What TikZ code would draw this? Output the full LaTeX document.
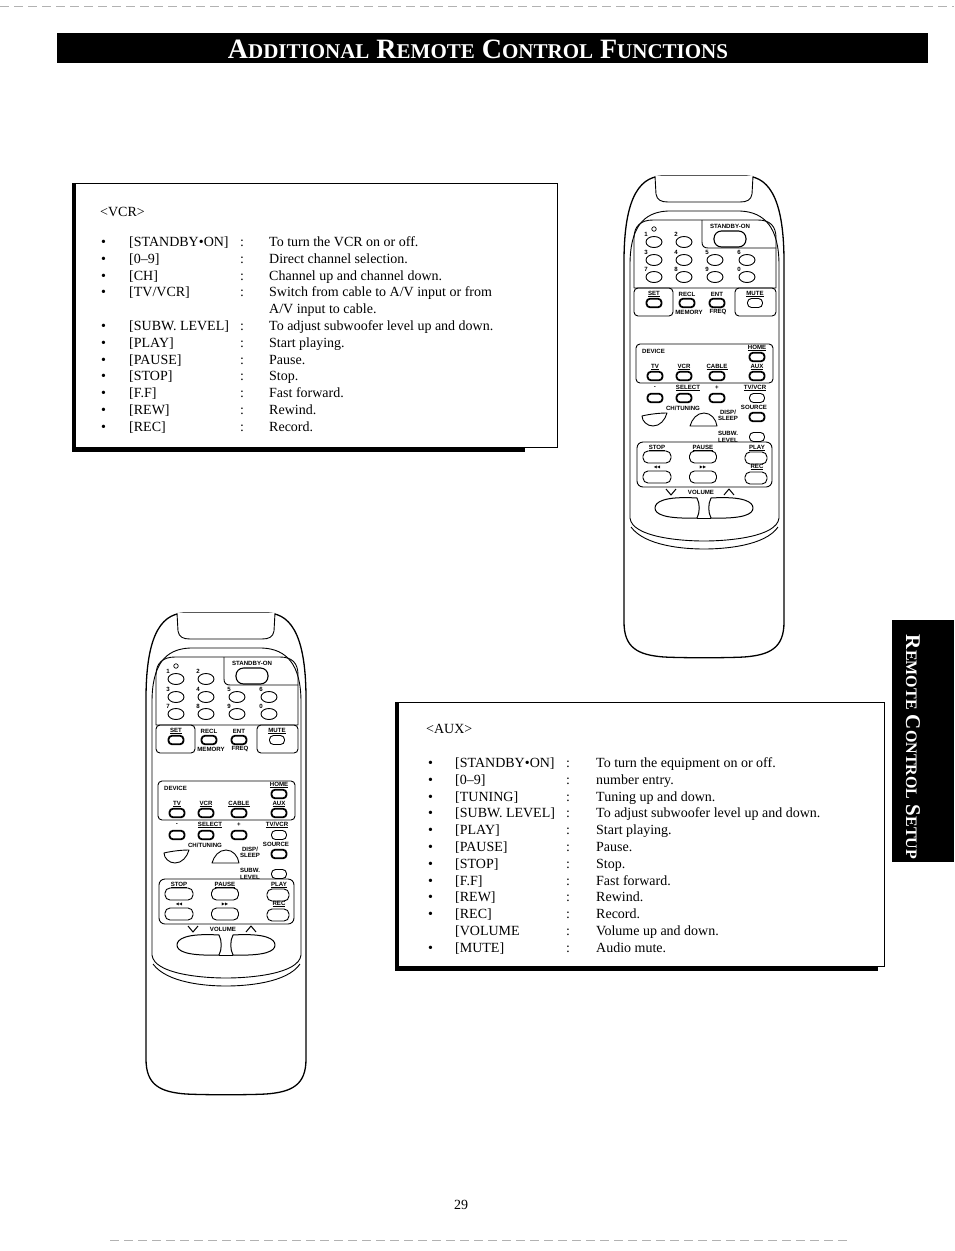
\documentclass[tikz,border=0pt]{standalone}
\usepackage{fontspec}
\setmainfont{Liberation Serif}
\setsansfont{Liberation Sans}
\newfontfamily\symbfont{DejaVu Sans}
\usetikzlibrary{shapes.geometric}

% fake small caps: big size, small size, first letter, rest
\newcommand{\fakesc}[4]{{\fontsize{#1}{#1}\selectfont #3}{\fontsize{#2}{#2}\selectfont #4}}

\tikzset{
  body/.style={line width=1.3pt, line join=round},
  plate/.style={line width=0.9pt, line join=round},
  panel/.style={line width=0.9pt, rounded corners=4pt},
  keylab/.style={font=\sffamily\bfseries\fontsize{6.1}{6.3}\selectfont, inner sep=0pt, align=center},
  digitkey/.style={ellipse, draw, line width=0.9pt, minimum width=16pt, minimum height=11pt, inner sep=0pt},
  boldkey/.style={rectangle, draw, line width=1.8pt, rounded corners=3.5pt, minimum width=15pt, minimum height=8.5pt, inner sep=0pt},
  thinkey/.style={rectangle, draw, line width=0.9pt, rounded corners=4pt, minimum width=15pt, minimum height=9pt, inner sep=0pt},
  playkey/.style={thinkey, minimum height=12pt, rounded corners=5pt},
  txt/.style={font=\fontsize{14}{17}\selectfont, anchor=base west, inner sep=0pt},
  colon/.style={font=\fontsize{14}{17}\selectfont, anchor=base, inner sep=0pt},
  scan/.style={gray!60, line width=0.6pt, dash pattern=on 9pt off 5pt},
}

% one remote, drawn at the place of the right one
\newcommand{\drawremote}[1]{%
  % body, face plate and lid
  \draw[body] (624,262) .. controls (624,205) and (636,177) .. (662,176) -- (746,176)
    .. controls (772,177) and (784,205) .. (784,262) -- (784,622)
    .. controls (784,648) and (770,655) .. (744,657) .. controls (724,658) and (684,658) .. (664,657)
    .. controls (638,655) and (624,648) .. (624,622) -- cycle;
  \draw[plate] (630,518) -- (630,265) .. controls (630,228) and (643,212) .. (668,211) -- (740,211)
    .. controls (765,212) and (779,228) .. (779,265) -- (779,518)
    .. controls (777,537) and (728,541) .. (704,541) .. controls (680,541) and (632,537) .. (630,518);
  \draw[plate] (631,527) .. controls (645,546) and (684,549) .. (704,549) .. controls (724,549) and (765,546) .. (778,527);
  \draw[plate, fill=white] (655,176) -- (656,194) .. controls (657,200) and (661,202) .. (668,202) -- (740,202)
    .. controls (747,202) and (751,200) .. (752,194) -- (753,176);
  % keypad
  \draw[plate] (634,288) -- (634,238) .. controls (634,226) and (641,220) .. (653,220) -- (758,220)
    .. controls (770,220) and (776,226) .. (776,238) -- (776,288) -- cycle;
  \draw[plate] (702,220) -- (702,242) .. controls (702,246) and (704,248) .. (708,248) -- (776,248);
  \draw[panel] (634,288) rectangle (673,316);
  \draw[panel] (735,288) rectangle (776,316);
  \node[circle, draw, line width=0.7pt, minimum size=4.5pt, inner sep=0pt] (#1led) at (654,229) {};
  \foreach \lab/\px/\py in {1/654/242, 2/684/242, 3/654/260, 4/684/260, 5/715/260, 6/747/260,
                            7/654/277, 8/684/277, 9/715/277, 0/747/277} {
    \node[digitkey] (#1k\lab) at (\px,\py) {};
    \node[keylab] (#1l\lab) at (\px-8,\py-8) {\lab};
  }
  \node[keylab] (#1lsb) at (730,226) {STANDBY-ON};
  \node[thinkey, minimum width=32pt, minimum height=16pt, rounded corners=7.5pt, line width=1.1pt] (#1sb) at (730,239) {};
  \node[keylab] (#1lset) at (654,294) {\underline{SET}};
  \node[boldkey] (#1set) at (654,303) {};
  \node[keylab] (#1lrecl) at (687,294) {RECL};
  \node[boldkey] (#1recl) at (687,303) {};
  \node[keylab] (#1lent) at (717,294) {ENT};
  \node[boldkey] (#1ent) at (717,303) {};
  \node[keylab] (#1lmute) at (755,294) {\underline{MUTE}};
  \node[thinkey] (#1mute) at (755,303) {};
  \node[keylab] (#1lmem) at (689,312) {MEMORY};
  \node[keylab] (#1lfreq) at (718,312) {FREQ};
  % device panel
  \draw[panel] (636,344) rectangle (773,383);
  \node[keylab, anchor=west] (#1ldev) at (642,351) {DEVICE};
  \node[keylab] (#1lhome) at (757,348) {\underline{HOME}};
  \node[boldkey] (#1home) at (757,357) {};
  \foreach \nm/\lab/\px in {tv/TV/655, vcr/VCR/684, cable/CABLE/717, aux/AUX/757} {
    \node[keylab] (#1l\nm) at (\px,367) {\underline{\lab}};
    \node[boldkey] (#1\nm) at (\px,376) {};
  }
  \node[keylab] (#1lminus) at (655,388) {-};
  \node[boldkey] (#1minus) at (655,398) {};
  \node[keylab] (#1lsel) at (688,388) {\underline{SELECT}};
  \node[boldkey] (#1sel) at (684,398) {};
  \node[keylab] (#1lplus) at (717,388) {+};
  \node[boldkey] (#1plus) at (717,398) {};
  \node[keylab] (#1ltvvcr) at (755,388) {\underline{TV/VCR}};
  \node[thinkey] (#1tvvcr) at (757,398) {};
  \node[keylab] (#1lch) at (683,408) {CH/TUNING};
  \draw[plate] (642,416) .. controls (650,414) and (660,413) .. (667,413) .. controls (665,420) and (660,426) .. (653,426)
    .. controls (647,426) and (642,421) .. (642,416) -- cycle;
  \draw[plate] (690,426) .. controls (692,419) and (697,413) .. (704,413) .. controls (711,413) and (716,419) .. (717,426) -- cycle;
  \node[keylab] (#1lsrc) at (754,407) {SOURCE};
  \node[boldkey] (#1src) at (757,417) {};
  \node[keylab] (#1ldisp) at (728,415) {DISP/\\SLEEP};
  \node[keylab] (#1lsubw) at (728,437) {SUBW.\\LEVEL};
  \node[thinkey] (#1subw) at (757,437) {};
  % transport panel
  \draw[panel, rounded corners=6pt] (637,442) rectangle (772,487);
  \node[keylab] (#1lstop) at (657,448) {\underline{STOP}};
  \node[playkey, minimum width=28pt] (#1stop) at (657,457) {};
  \node[keylab] (#1lpause) at (703,448) {\underline{PAUSE}};
  \node[playkey, minimum width=27pt] (#1pause) at (703,457) {};
  \node[keylab] (#1lplay) at (757,448) {\underline{PLAY}};
  \node[playkey, minimum width=22pt] (#1play) at (756,458) {};
  \node[keylab] (#1lrew) at (657,467) {\symbfont\fontsize{4}{4}\selectfont ◀◀};
  \node[playkey, minimum width=28pt] (#1rew) at (657,477) {};
  \node[keylab] (#1lff) at (703,467) {\symbfont\fontsize{4}{4}\selectfont ▶▶};
  \node[playkey, minimum width=27pt] (#1ff) at (703,477) {};
  \node[keylab] (#1lrec) at (757,467) {\underline{REC}};
  \node[playkey, minimum width=22pt] (#1rec) at (756,478) {};
  % volume
  \node[keylab] (#1lvol) at (701,492) {VOLUME};
  \draw[plate, line width=1pt] (666,489) -- (671,495) -- (676,489);
  \draw[plate, line width=1pt] (724,495) -- (729,489) -- (734,495);
  \draw[plate, line width=1pt] (697,498) .. controls (664,496) and (655,502) .. (655,508) .. controls (655,514) and (664,519) .. (697,518)
    .. controls (700,512) and (700,504) .. (697,498) -- cycle;
  \draw[plate, line width=1pt] (711,498) .. controls (744,496) and (753,502) .. (753,508) .. controls (753,514) and (744,519) .. (711,518)
    .. controls (708,512) and (708,504) .. (711,498) -- cycle;
  \draw[plate] (697,518) -- (711,518);
}

\begin{document}
\begin{tikzpicture}[x=1pt, y=-1pt]
  \useasboundingbox (0,0) rectangle (954,1251);

  % scan edges
  \draw[scan] (0,6) -- (954,6);
  \draw[scan] (110,1240) -- (850,1240);

  % title bar
  \fill (57,33) rectangle (928,63);
  \node[white, font=\bfseries\fontsize{28}{30}\selectfont, inner sep=0pt] (title) at (478,49)
    {\fakesc{28}{21}{A}{DDITIONAL} \fakesc{28}{21}{R}{EMOTE} \fakesc{28}{21}{C}{ONTROL} \fakesc{28}{21}{F}{UNCTIONS}};

  % side tab
  \fill (892,620) rectangle (954,862);
  \node[white, rotate=-90, font=\bfseries\fontsize{21}{23}\selectfont, inner sep=0pt] (tab) at (913,747)
    {\fakesc{21}{16}{R}{EMOTE} \fakesc{21}{16}{C}{ONTROL} \fakesc{21}{16}{S}{ETUP}};

  % VCR box
  \draw[line width=0.8pt] (75,183) rectangle (557,447);
  \draw[line width=4pt] (73.5,183) -- (73.5,449.5) -- (525,449.5);
  \node[txt] (vcrhead) at (100,216) {<VCR>};
  \foreach \bu/\ky/\co/\de [count=\i] in {
      •/{[STANDBY•ON]}/:/{To turn the VCR on or off.},
      •/{[0–9]}/:/{Direct channel selection.},
      •/{[CH]}/:/{Channel up and channel down.},
      •/{[TV/VCR]}/:/{Switch from cable to A/V input or from},
      {}/{}/{}/{A/V input to cable.},
      •/{[SUBW. LEVEL]}/:/{To adjust subwoofer level up and down.},
      •/{[PLAY]}/:/{Start playing.},
      •/{[PAUSE]}/:/{Pause.},
      •/{[STOP]}/:/{Stop.},
      •/{[F.F]}/:/{Fast forward.},
      •/{[REW]}/:/{Rewind.},
      •/{[REC]}/:/{Record.}} {
    \node[txt] (vb\i) at (101,229.7+\i*16.8) {\bu};
    \node[txt] (vk\i) at (129,229.7+\i*16.8) {\ky};
    \node[colon] (vc\i) at (242,229.7+\i*16.8) {\co};
    \node[txt] (vd\i) at (269,229.7+\i*16.8) {\de};
  }

  % AUX box
  \draw[line width=0.8pt] (398,702) rectangle (884,966);
  \draw[line width=4pt] (396.5,702) -- (396.5,969) -- (878,969);
  \node[txt] (auxhead) at (426,733) {<AUX>};
  \foreach \bu/\ky/\co/\de [count=\i] in {
      •/{[STANDBY•ON]}/:/{To turn the equipment on or off.},
      •/{[0–9]}/:/{number entry.},
      •/{[TUNING]}/:/{Tuning up and down.},
      •/{[SUBW. LEVEL]}/:/{To adjust subwoofer level up and down.},
      •/{[PLAY]}/:/{Start playing.},
      •/{[PAUSE]}/:/{Pause.},
      •/{[STOP]}/:/{Stop.},
      •/{[F.F]}/:/{Fast forward.},
      •/{[REW]}/:/{Rewind.},
      •/{[REC]}/:/{Record.},
      {}/{[VOLUME}/:/{Volume up and down.},
      •/{[MUTE]}/:/{Audio mute.}} {
    \node[txt] (ab\i) at (428,750.7+\i*16.8) {\bu};
    \node[txt] (ak\i) at (455,750.7+\i*16.8) {\ky};
    \node[colon] (ac\i) at (568,750.7+\i*16.8) {\co};
    \node[txt] (ad\i) at (596,750.7+\i*16.8) {\de};
  }

  % remotes
  \drawremote{ra}
  \begin{scope}[shift={(-478,437)}]
    \drawremote{rb}
  \end{scope}

  % page number
  \node[font=\fontsize{14}{17}\selectfont, inner sep=0pt] (pagenum) at (461,1205) {29};
\end{tikzpicture}
\end{document}
